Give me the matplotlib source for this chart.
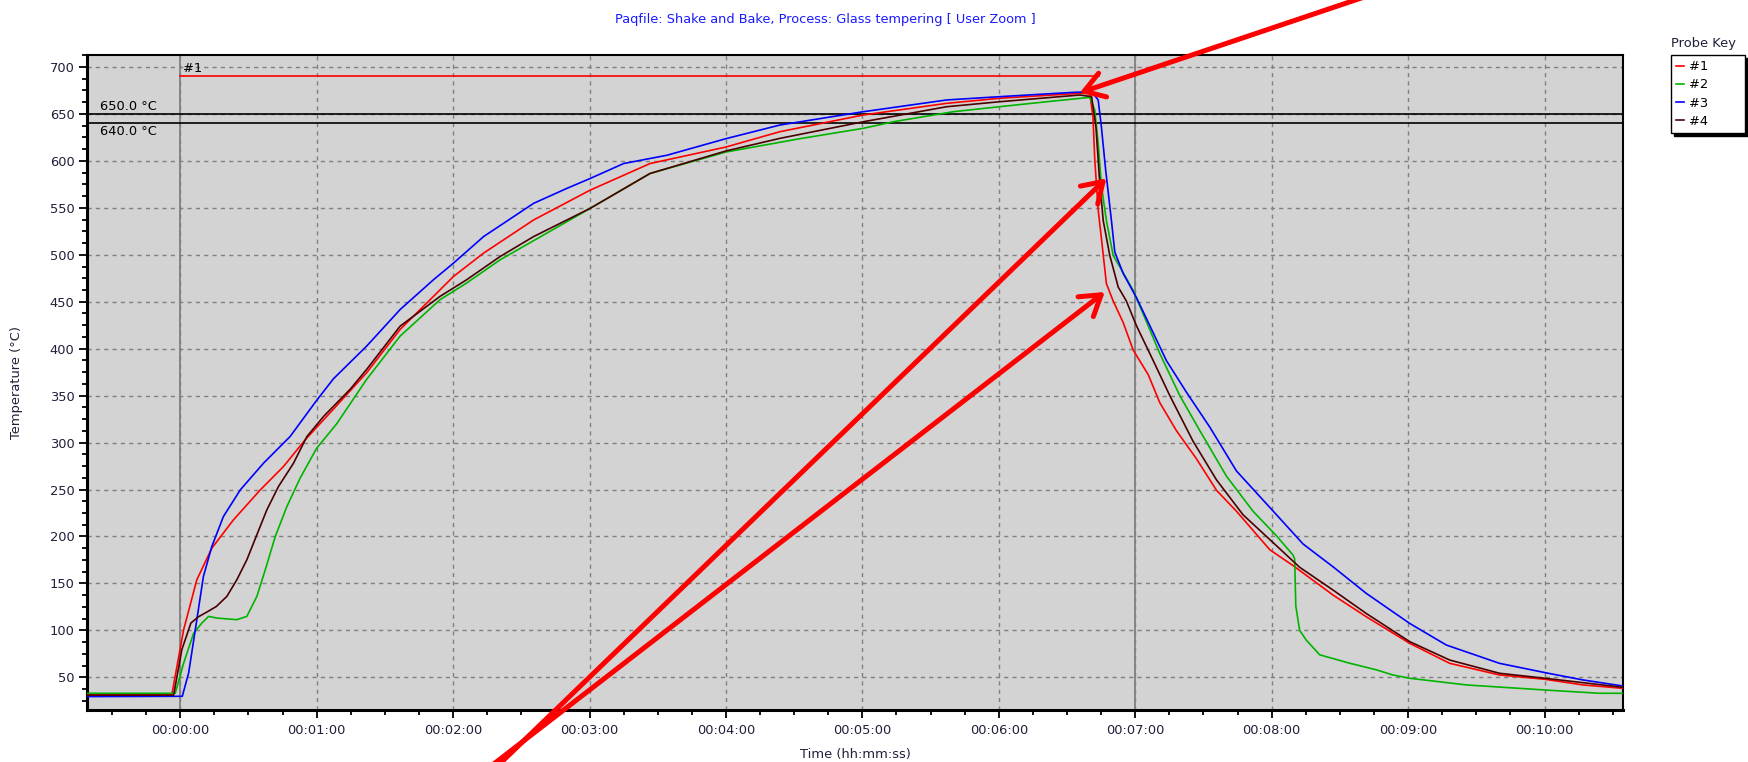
import matplotlib
matplotlib.use("Agg")
import matplotlib.pyplot as plt
from matplotlib.ticker import MultipleLocator, FuncFormatter

# probe readings (time in s from start, temperature in degC)
red_t = [-41, -3.7, 1.5, 7.3, 13.9, 23.4, 35.2, 45.4, 54.9, 67.4, 82, 96.7, 111.4, 120.2, 133.4,
         155.4, 180.3, 206.6, 240, 263.7, 300.4, 337, 360.2, 395.6, 400, 401.4, 402.2, 403.7, 405.1,
         407.3, 410.3, 414.6, 419.1, 425.7, 430.8, 438.1, 446.9, 455.7, 464.5, 479.2, 489.4, 507,
         521.6, 540.7, 558.3, 580.2, 600.2, 616.9, 634.4]
red_v = [31.5, 31.5, 100.7, 153.9, 187.6, 217.7, 249.6, 274.5, 302.8, 335.7, 374.5, 420.5, 455.8,
         477, 501.8, 537.1, 568.9, 597.2, 614.8, 631.1, 648.9, 661.3, 666.7, 672, 672, 647, 601,
         547.7, 517.9, 469.4, 450.7, 428.4, 398.5, 372.4, 342.5, 312.7, 282.8, 249.3, 226.9, 185.8,
         169, 137.6, 114.5, 86.2, 64.9, 52.5, 47.9, 41.9, 38.3]

green_t = [-41, -2.2, 1.5, 5.9, 9.5, 12.5, 16.1, 24.9, 29.3, 33.7, 37.4, 41.8, 46.9, 52.7, 60, 68.8,
           82, 96.7, 114.3, 126, 140.7, 180.3, 206.6, 240, 272.6, 300.4, 313.6, 340, 360.2, 381, 400,
           402.2, 403.7, 405.1, 407.3, 410.3, 413.9, 419.1, 425, 430.8, 439.6, 448.4, 460.1, 471.8,
           482.1, 489.4, 490.1, 490.6, 492.3, 495.2, 501.1, 514.3, 526, 533.3, 540.7, 565.6, 600.2,
           624.2, 634.4]
green_v = [33, 33, 65.1, 97, 107.8, 114.9, 113.1, 111.4, 114.9, 136.2, 164.5, 200, 231.9, 262, 294,
           320, 367.4, 413.4, 452.3, 470, 494.7, 549.5, 586.6, 609.5, 623.7, 634.7, 641.7, 652.4,
           657.7, 663, 667.7, 654.2, 618.7, 573.9, 536.6, 499.3, 484.3, 461.9, 428.4, 394.8, 350,
           312.7, 264.2, 226.9, 200.7, 180.2, 176, 126, 100, 89.7, 74, 65, 58, 52.5, 49, 41.9, 36.5,
           33, 33]

blue_t = [-41, 0.9, 3.7, 7.3, 10.2, 13.9, 19, 26.4, 36.6, 48.3, 60, 67.4, 82, 96.7, 111.4, 120.2,
          133.4, 155.4, 170, 180.3, 195, 214, 240, 263.7, 300.4, 337, 360.2, 392.7, 400.8, 403.7,
          405.1, 407, 409.5, 411, 414.6, 420.5, 426.4, 433.7, 442.5, 452.8, 464.5, 480.7, 493.8, 507,
          521.6, 540.7, 556.8, 580.2, 600.2, 616.9, 634.4]
blue_v = [29.5, 29.8, 54.6, 111.4, 157.5, 189.4, 221.3, 249.6, 278, 306.4, 345, 368, 402.8, 441.7,
          473.5, 491.2, 519.4, 554.8, 570.7, 581.3, 597.2, 606, 623.7, 638.2, 652.4, 664.9, 668.4,
          673, 673.7, 664.9, 636.4, 590, 537, 503, 480.6, 454.5, 424.6, 387.3, 353.7, 316.4, 269.8,
          226.9, 192, 167.7, 139.4, 107.4, 84.4, 64.9, 55, 47.2, 40.8]

black_t = [-41, -2.9, 0.7, 4.7, 7.8, 12.2, 15.9, 20.5, 24.9, 29.3, 33.7, 38.1, 43.2, 49.8, 55.7,
           63.1, 74.8, 82, 96.7, 114.3, 126, 140.7, 155.4, 180.3, 206.6, 240, 263.7, 300.4, 337,
           360.2, 395.6, 400.8, 402.7, 404.2, 405.9, 408.8, 412.5, 416.1, 420.5, 427.9, 435.2, 445.4,
           455.7, 467.4, 480.7, 492.3, 507, 521.6, 540.7, 558.3, 580.2, 600.2, 616.9, 634.4]
black_v = [31, 31, 79.5, 107.8, 114.2, 120.2, 125.5, 136.2, 153.9, 175.2, 201.8, 228.4, 253.2, 278,
           306.4, 328, 357, 378, 424, 455.8, 473.5, 498.2, 519.4, 549.5, 586.6, 610.6, 624, 641.7,
           657.7, 663, 670.2, 668.4, 636.4, 583.2, 536.6, 499.3, 465.7, 450.7, 424.6, 387.3, 350,
           301.5, 260.4, 223.1, 193.3, 167.2, 142.9, 118, 88, 68.4, 54.3, 49, 44.3, 39.4]

probe_names = ['#1', '#2', '#3', '#4']
probe_colors = ['#ff0000', '#00b400', '#0000ff', '#4b0000']

limit_lines = [650.0, 640.0]
marker_level = 690
marker_start, marker_end = 0, 404
solid_times = [0, 420]

title = 'Paqfile: Shake and Bake, Process: Glass tempering [ User Zoom ]'

fs = 9.4
txtc = '#20203a'

fig = plt.figure(figsize=(17.48, 7.62), dpi=100)
ax = fig.add_axes([87 / 1748, 52 / 762, 1536 / 1748, 655 / 762])
ax.set_facecolor('#d3d3d3')

ax.set_xlim(-41, 634.5)
ax.set_ylim(15.2, 712.8)

# grid
ax.xaxis.set_major_locator(MultipleLocator(60))
ax.xaxis.set_minor_locator(MultipleLocator(15))
ax.yaxis.set_major_locator(MultipleLocator(50))
ax.yaxis.set_minor_locator(MultipleLocator(12.5))
ax.grid(True, which='major', color='#808080', linestyle=(0, (3, 3)), linewidth=1.0)
ax.set_axisbelow(True)
for t in solid_times:
    ax.axvline(t, color='#808080', linewidth=1.3, zorder=1.5)


def hms(x, pos):
    x = int(round(x))
    if x < 0:
        return ''
    return '%02d:%02d:%02d' % (x // 3600, (x % 3600) // 60, x % 60)


ax.xaxis.set_major_formatter(FuncFormatter(hms))
ax.tick_params(which='major', direction='out', length=6, width=1.3, labelsize=fs,
               colors='black', labelcolor=txtc, pad=4)
ax.tick_params(which='minor', direction='out', length=3.5, width=1.3, colors='black')
ax.tick_params(axis='y', which='major', pad=3)

for s in ['left', 'bottom']:
    ax.spines[s].set_linewidth(2.2)
for s in ['top', 'right']:
    ax.spines[s].set_linewidth(1.5)

# limit lines
for lv in limit_lines:
    ax.axhline(lv, color='black', linewidth=1.2, zorder=2)
ax.text(-35.2, limit_lines[0] + 1.5, '%.1f °C' % limit_lines[0], fontsize=fs, color='black',
        va='bottom', ha='left')
ax.text(-35.2, limit_lines[1] - 1.5, '%.1f °C' % limit_lines[1], fontsize=fs, color='black',
        va='top', ha='left')

# probe #1 marker
ax.plot([marker_start, marker_end], [marker_level, marker_level], color='#ff0000', linewidth=1.2)
ax.text(marker_start + 1, marker_level + 2, '#1', fontsize=fs, color='black', va='bottom', ha='left')

# probe traces
series = [(red_t, red_v), (green_t, green_v), (blue_t, blue_v), (black_t, black_v)]
for (tt, vv), name, col in zip(series, probe_names, probe_colors):
    ax.plot(tt, vv, color=col, linewidth=1.2, label=name, zorder=3)

ax.set_xlabel('Time (hh:mm:ss)', fontsize=fs, color=txtc)
ax.set_ylabel('Temperature (°C)', fontsize=fs, color=txtc)
ax.xaxis.set_label_coords(0.5, -0.058)
ax.yaxis.set_label_coords(-0.0415, 0.5)

fig.text(825 / 1748, 1 - 19 / 762, title, color='#1a1aff', fontsize=9.3, ha='center', va='center')

# legend
fig.text(1671 / 1748, 1 - 43 / 762, 'Probe Key', fontsize=fs, color=txtc, ha='left', va='center')
leg = ax.legend(loc='upper left', bbox_to_anchor=(1671 / 1748, 1 - 55 / 762, 74 / 1748, 0),
                bbox_transform=fig.transFigure, mode='expand', borderaxespad=0, fontsize=fs,
                frameon=True, fancybox=False, edgecolor='black', handlelength=0.6,
                handletextpad=0.4, labelspacing=0.4, borderpad=0.4,
                shadow={'color': 'black', 'alpha': 1})
leg.get_frame().set_linewidth(1.0)
for txt in leg.get_texts():
    txt.set_color('black')

# red callout arrows
arrow_kw = dict(arrowstyle='->,head_length=0.7,head_width=0.45', color='#ff0000', lw=3.6,
                shrinkA=0, shrinkB=0, mutation_scale=20)
ax.annotate('', xy=(395.6, 672.6), xycoords='data', xytext=(1400, 777),
            textcoords='figure pixels', arrowprops=arrow_kw, annotation_clip=False)
ax.annotate('', xy=(407.3, 581.4), xycoords='data', xytext=(483, -18),
            textcoords='figure pixels', arrowprops=arrow_kw, annotation_clip=False)
ax.annotate('', xy=(406.6, 460.4), xycoords='data', xytext=(473, -18),
            textcoords='figure pixels', arrowprops=arrow_kw, annotation_clip=False)

fig.savefig('out.png', dpi=100)
